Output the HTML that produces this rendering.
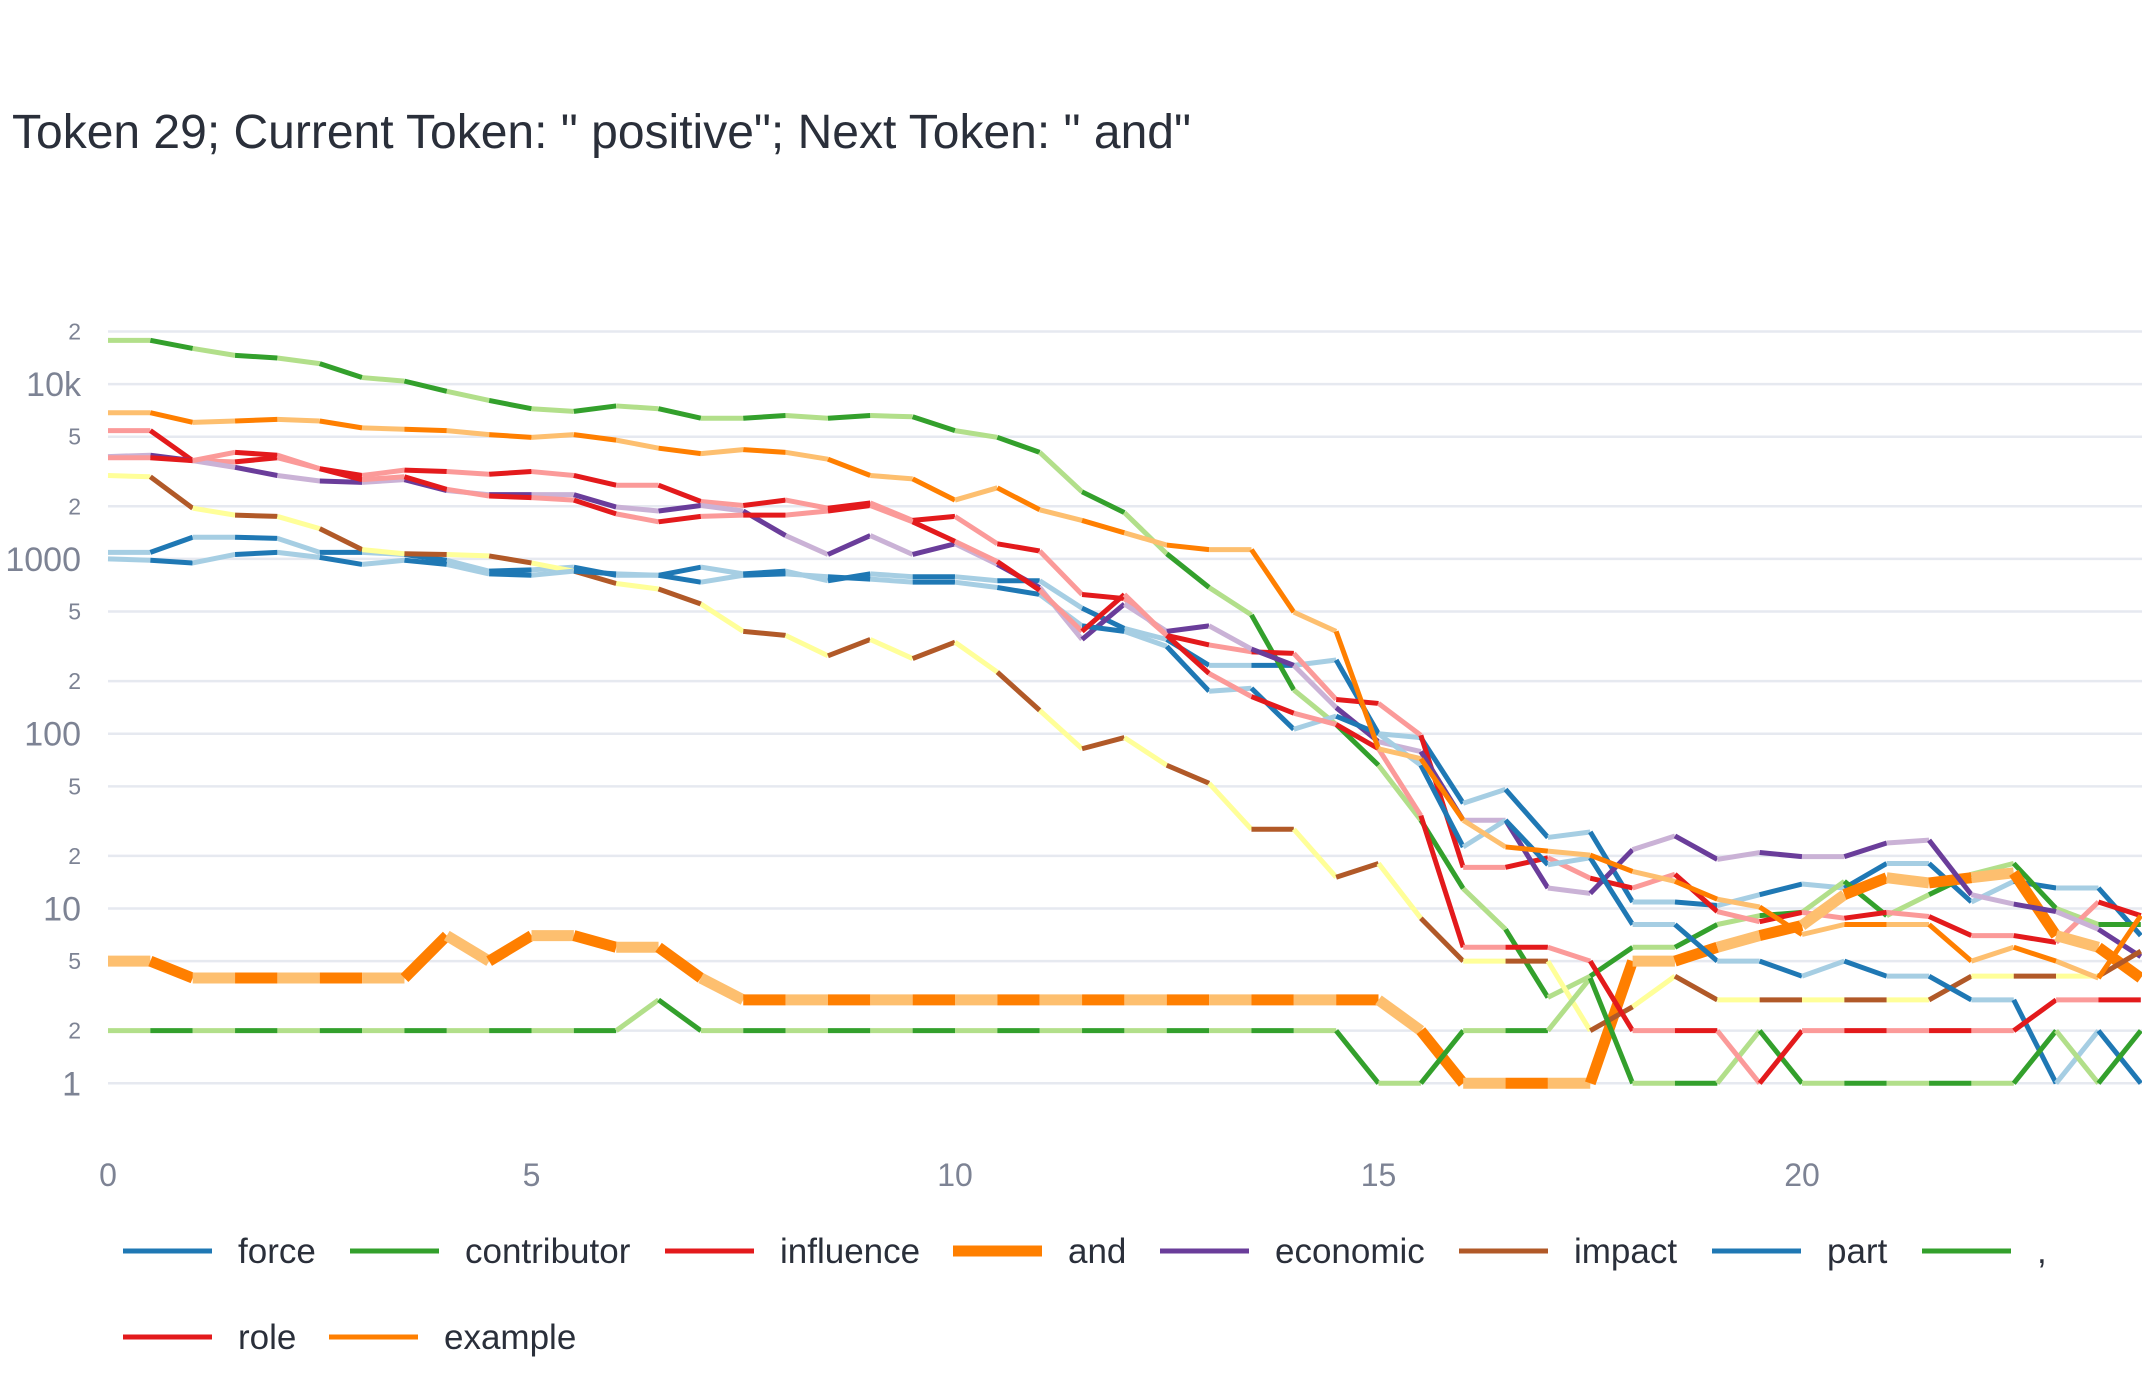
<!DOCTYPE html>
<html><head><meta charset="utf-8"><style>
html,body{margin:0;padding:0;background:#fff;width:2142px;height:1380px;overflow:hidden}
svg{display:block}
text{font-family:"Liberation Sans",sans-serif}
</style></head><body>
<svg id="chart" width="2142" height="1380" xmlns="http://www.w3.org/2000/svg">
<text x="12" y="148" font-size="48" fill="#2a2f3a">Token 29; Current Token: " positive"; Next Token: " and"</text>
<g id="grid"></g>
<g id="yticks"></g>
<g id="xticks"></g>
<g id="series"></g>
<g id="legend"></g>
</svg>
<script>
const steps = [];
for (let i = 0; i <= 48; i++) steps.push(i * 0.5);
const xTickVals = [0, 5, 10, 15, 20];
const yGridVals = [1,2,5,10,20,50,100,200,500,1000,2000,5000,10000,20000];
const yMajorLabels = {1:"1",10:"10",100:"100",1000:"1000",10000:"10k"};
const seriesNames = ["force","contributor","influence","and","economic","impact","part",",","role","example"];
const force = [1090,1090,1330,1330,1310,1090,1090,1060, 982,851,866,897,806,806,897,821, 851,750,821,791,791,750,750,523, 400,346,246,246,246,264,100,95, 40,48,25.5,27.4,10.9,10.9,10.4,12, 13.8,13.1,18.1,18.1,10.9,14.3,13.1,13.1, 7];
const contributor = [17800,17800,16000,14600,14100,13100,10900,10400,9100,8060,7230,6980,7500,7230,6380,6380,6610,6380,6610,6500,5420,4960,4070,2420,1840,1070,686,478,178,113,66,32,13,7.6,3.1,4.1,6,6,8.1,9.1,9.5,14.3,9.1,12,15.7,18.1,10,8.1,8.1];
const influence = [5420,5420,3650,3590,3790,3280,3000,3220,3160,3050,3160,3000,2640,2640,2130,2020,2170,1950,2090,1660,1750,1220,1110,626,593,365,322,294,288,157,149,98,17.2,17.2,19.5,14.9,13.1,15.7,9.6,8.4,9.5,8.8,9.5,9.0,7.0,7.0,6.4,10.9,9.1];
const andTok = [5,5,4,4,4,4,4,4, 7,5,7,7,6,6,4,3, 3,3,3,3,3,3,3,3, 3,3,3,3,3,3,3,2, 1,1,1,1,5,5,6,7, 8,12,15,14,15,16,7,6, 4];
const economic = [3850,3920,3650,3340,3000,2790,2740,2840,2460,2330,2330,2330,1980,1880,2020,1880,1360,1060,1360,1060,1220,930,686,346,552,385,414,305,246,141,90,79,32,32,13.1,12.2,21.7,26,19.1,20.9,19.8,19.8,23.7,24.6,12,10.6,9.6,7.6,5.3];
const impact = [3000,2950,1950,1780,1750,1490,1130,1070,1060,1040,948,851,723,673,552,385,365,279,346,269,334,225,136,82,95,66,52,28.4,28.4,15.1,18.1,8.8,5,5,5,2,2.74,4.1,3,3,3,3,3,3,4.1,4.1,4.1,4.1,5.7];
const part = [1000,982,948,1060,1090,1020,930,982, 930,821,806,851,821,806,736,806, 821,791,766,736,736,686,626,414, 385,316,175,182,106,126,100,66, 22.5,32,17.8,19.5,8.1,8.1,5,5, 4.1,5,4.1,4.1,3,3,1,2, 1];
const comma = [2,2,2,2,2,2,2,2, 2,2,2,2,2,3,2,2, 2,2,2,2,2,2,2,2, 2,2,2,2,2,2,1,1, 2,2,2,4,1,1,1,2, 1,1,1,1,1,1,2,1, 2];
const role = [3790,3790,3650,4070,3920,3280,2840,2950,2500,2290,2240,2170,1810,1630,1750,1780,1780,1880,2020,1630,1260,965,661,385,626,365,221,163,131,113,82,34,6,6,6,5,2,2,2,1,2,2,2,2,2,2,3,3,3];
const example = [6860,6860,6040,6150,6280,6150,5620,5520,5420,5140,4960,5140,4780,4300,4000,4220,4070,3720,3000,2870,2170,2550,1910,1660,1410,1200,1130,1130,496,385,82,72,32,22.5,21.3,20.2,16.3,14.3,11.3,10.2,7.1,8.1,8.1,8.1,5.0,6.0,5.0,4.0,9.1];

const seriesData = [force, contributor, influence, andTok, economic, impact, part, comma, role, example];
const darkColors = ["#1f78b4","#33a02c","#e31a1c","#ff7f00","#6a3d9a","#b15928","#1f78b4","#33a02c","#e31a1c","#ff7f00"];
const lightColors = ["#a6cee3","#b2df8a","#fb9a99","#fdbf6f","#cab2d6","#ffff99","#a6cee3","#b2df8a","#fb9a99","#fdbf6f"];
const widths = [5,5,5,11,5,5,5,5,5,5];

const NS = "http://www.w3.org/2000/svg";
const X0 = 108, XU = 84.7, Y1 = 1083.3, DEC = 174.8;
function xs(t){ return X0 + t * XU; }
function ys(v){ return Y1 - Math.log10(v) * DEC; }
function mk(tag, attrs, parent){ const e = document.createElementNS(NS, tag); for (const k in attrs) e.setAttribute(k, attrs[k]); parent.appendChild(e); return e; }

const grid = document.getElementById('grid'), yt = document.getElementById('yticks'), xt = document.getElementById('xticks');
yGridVals.forEach(v => {
  const y = ys(v);
  const gl = mk('line', {x1: X0, x2: 2142, y1: y, y2: y, stroke: '#e6e9f0', 'stroke-width': 2.5}, grid);
  
  
  const major = yMajorLabels[v];
  const lbl = mk('text', {x: 81, y: y + (major ? 12 : 8), 'text-anchor': 'end', 'font-size': major ? 34 : 23, fill: '#7d8394'}, yt);
  lbl.textContent = major ? major : String(v).charAt(0);
  
  
});
xTickVals.forEach(t => {
  const lbl = mk('text', {x: xs(t), y: 1186, 'text-anchor': 'middle', 'font-size': 32, fill: '#7d8394'}, xt);
  lbl.textContent = String(t);
  
  
});

const sg = document.getElementById('series');
seriesData.forEach((vals, si) => {
  const g = mk('g', {}, sg);
  
  
  for (let i = 0; i < vals.length - 1; i++) {
    const seg = mk('line', {x1: xs(steps[i]), y1: ys(vals[i]), x2: xs(steps[i+1]), y2: ys(vals[i+1]),
      stroke: i % 2 === 0 ? lightColors[si] : darkColors[si], 'stroke-width': widths[si], 'stroke-linecap': 'butt'}, g);
    
    
  }
});

const lg = document.getElementById('legend');
const legendX = [123,350,665,953,1160,1459,1712,1922,123,329];
const legendY = [1251,1251,1251,1251,1251,1251,1251,1251,1337,1337];
seriesNames.forEach((n, i) => {
  const item = mk('g', {}, lg);
  
  
  mk('line', {x1: legendX[i], x2: legendX[i] + 89, y1: legendY[i], y2: legendY[i], stroke: darkColors[i], 'stroke-width': i === 3 ? 11 : 5}, item);
  const tx = mk('text', {x: legendX[i] + 115, y: legendY[i] + 12, 'font-size': 35, fill: '#2a2f3a'}, item);
  tx.textContent = n;
});
</script>
</body></html>
